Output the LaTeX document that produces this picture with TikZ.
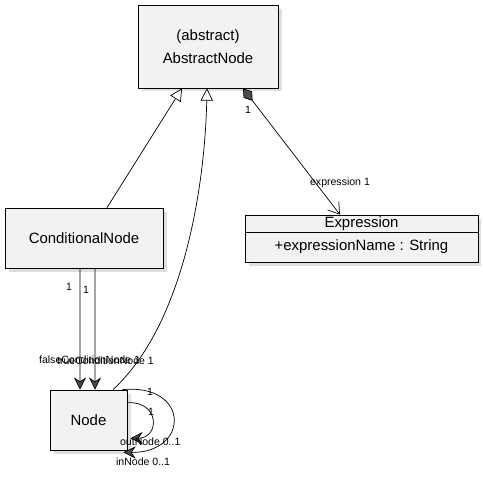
\documentclass[tikz,border=0pt]{standalone}
\usepackage{fontspec}
\setmainfont{Liberation Sans}
\usetikzlibrary{arrows.meta,shadows,positioning}
\begin{document}
\begin{tikzpicture}[x=0.02cm,y=0.02cm,
	classbox/.style={draw,fill=gray!10,drop shadow={opacity=0.25,shadow xshift=2pt,shadow yshift=-2pt},align=center,font=\fontsize{8.5}{13}\selectfont,inner sep=0pt},
	classtext/.style={align=center,font=\fontsize{8.5}{13}\selectfont,inner sep=0pt},
	lbl/.style={font=\fontsize{6}{7}\selectfont,inner sep=1pt},
	inherit/.style={-{Triangle[open,length=7pt,width=7pt]}},
	assoc/.style={-{Stealth[length=7pt,width=7pt,fill=gray!60!black]}}]
	\useasboundingbox (0,0) rectangle (483,483);
	\node[classbox,minimum width=2.8cm,minimum height=1.66cm] (abstractnode) at (208,436.5) {(abstract)\\AbstractNode};
	\node[classbox,minimum width=3.16cm,minimum height=1.2cm] (conditional) at (84,245) {ConditionalNode};
	\node[classbox,minimum width=4.66cm,minimum height=0.94cm] (expression) at (361.5,244.5) {};
	\draw (expression.west |- 0,251) coordinate (divl) -- (expression.east |- 0,251) coordinate (divr);
	\node[classtext] (exprname) at (361.5,259.5) {Expression};
	\node[classtext] (exprattr) at (361.5,236) {+expressionName : String};
	\node[classbox,minimum width=1.54cm,minimum height=1.2cm] (node) at (88.5,63) {Node};
	\draw[inherit] ([xshift=0.46cm]conditional.north) -- ([xshift=-0.52cm]abstractnode.south);
	\draw[inherit] ([xshift=0.49cm]node.north) .. controls (185,160) and (205,300) .. ([xshift=-0.02cm]abstractnode.south);
	\draw[{Diamond[length=9pt,width=6pt,fill=gray!60!black]}-{Straight Barb[length=6pt,width=8pt]}] ([xshift=0.7cm]abstractnode.south) -- ([xshift=-0.43cm]expression.north);
	\node[lbl] (compmult) at (248,373) {1};
	\node[lbl] (exprlabel) at (340,300) {expression 1};
	\draw[assoc] ([xshift=-0.08cm]conditional.south) -- ([xshift=-0.17cm]node.north);
	\draw[assoc] ([xshift=0.22cm]conditional.south) -- ([xshift=0.13cm]node.north);
	\node[lbl] (falsemult) at (69,196) {1};
	\node[lbl] (truemult) at (86,193) {1};
	\node[lbl,anchor=west] (falselabel) at (37,123) {falseConditionNode 1};
	\node[lbl,anchor=west] (truelabel) at (55,122) {trueConditionNode 1};
	\draw[assoc] ([xshift=-0.1cm]node.north east) .. controls (190,100) and (190,30) .. ([xshift=-0.08cm,yshift=-0.04cm]node.south east);
	\draw[assoc] ([yshift=-0.26cm]node.north east) .. controls (160,82) and (160,45) .. ([xshift=0.06cm,yshift=0.24cm]node.south east);
	\node[lbl] (outmult) at (150,91) {1};
	\node[lbl] (inmult) at (151,71) {1};
	\node[lbl,anchor=west] (outlabel) at (118,41) {outNode 0..1};
	\node[lbl,anchor=west] (inlabel) at (114,21) {inNode 0..1};
\end{tikzpicture}
\end{document}
